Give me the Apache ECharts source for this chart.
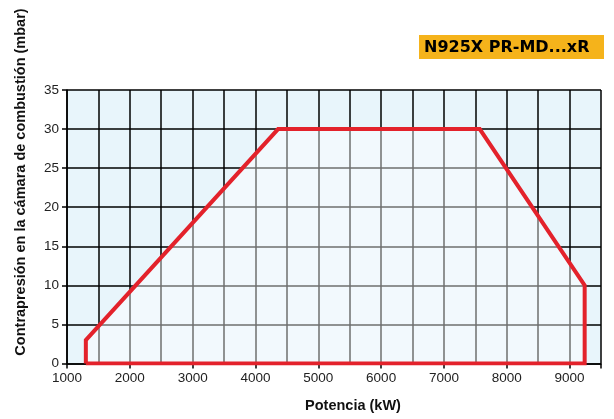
<!DOCTYPE html>
<html><head><meta charset="utf-8">
<script src="https://cdn.jsdelivr.net/npm/echarts@6/dist/echarts.min.js"></script>
<style>html,body{margin:0;padding:0;background:#fff}#c{width:614px;height:419px}</style>
</head><body><div id="c"></div>
<script>
const powerKW = [1300, 1300, 4360, 7570, 9240, 9240, 1300];
const pressureMbar = [0, 3, 30, 30, 10, 0, 0];
const xTicks = [1000, 2000, 3000, 4000, 5000, 6000, 7000, 8000, 9000];
const yTicks = [0, 5, 10, 15, 20, 25, 30, 35];
const titleText = 'N925X PR-MD...xR';
const xName = 'Potencia (kW)';
const yName = 'Contrapresión en la cámara de combustión (mbar)';

const chart = echarts.init(document.getElementById('c'), null, {renderer: 'canvas'});
const font = 'Liberation Sans, Arial, sans-serif';
const polygon = powerKW.map((x, i) => [x, pressureMbar[i]]);
chart.setOption({
  animation: false,
  grid: {left: 67, right: 13, top: 90, bottom: 55.5, show: true, backgroundColor: 'rgb(232,245,251)', borderWidth: 0},
  xAxis: [
    {type: 'value', min: 1000, max: 9500, interval: 500,
     axisLine: {show: false}, axisTick: {show: false}, axisLabel: {show: false},
     splitLine: {show: true, lineStyle: {color: '#000', width: 1.5}}},
    {type: 'value', min: 1000, max: 9500, interval: 1000, position: 'bottom',
     axisLine: {show: true, onZero: false, lineStyle: {color: '#000', width: 1.5}},
     axisTick: {show: true, length: 5, lineStyle: {color: '#000', width: 1.5}},
     axisLabel: {show: true, color: '#222', fontFamily: font, fontSize: 13.5, margin: 8,
       formatter: v => xTicks.includes(v) ? String(v) : ''},
     splitLine: {show: false}}
  ],
  yAxis: {type: 'value', min: 0, max: 35, interval: 5,
    axisLine: {show: true, lineStyle: {color: '#000', width: 1.5}},
    axisTick: {show: true, length: 5, lineStyle: {color: '#000', width: 1.5}},
    axisLabel: {color: '#222', fontFamily: font, fontSize: 13.5, margin: 8,
      formatter: v => yTicks.includes(v) ? String(v) : ''},
    splitLine: {show: true, lineStyle: {color: '#000', width: 1.5}}},
  graphic: [
    {type: 'rect', shape: {x: 419, y: 35, width: 185, height: 24}, style: {fill: '#f5b31b'}},
    {type: 'text', x: 424, y: 47.5, style: {text: titleText, font: 'bold 16px DejaVu Sans, sans-serif', fill: '#000', verticalAlign: 'middle'}},
    {type: 'text', x: 353, y: 406, style: {text: xName, font: 'bold 14.5px ' + font, fill: '#111', align: 'center', verticalAlign: 'middle'}},
    {type: 'text', x: 13, y: 182, rotation: Math.PI / 2,
     style: {text: yName, font: 'bold 14.5px ' + font, fill: '#111', align: 'center', verticalAlign: 'top'}}
  ],
  series: [{
    type: 'line', xAxisIndex: 0, data: polygon, symbol: 'none', z: 5,
    lineStyle: {color: '#e3222b', width: 4, join: 'miter'},
    areaStyle: {color: 'rgba(255,255,255,0.62)', origin: 'start'}
  }]
});
</script></body></html>
